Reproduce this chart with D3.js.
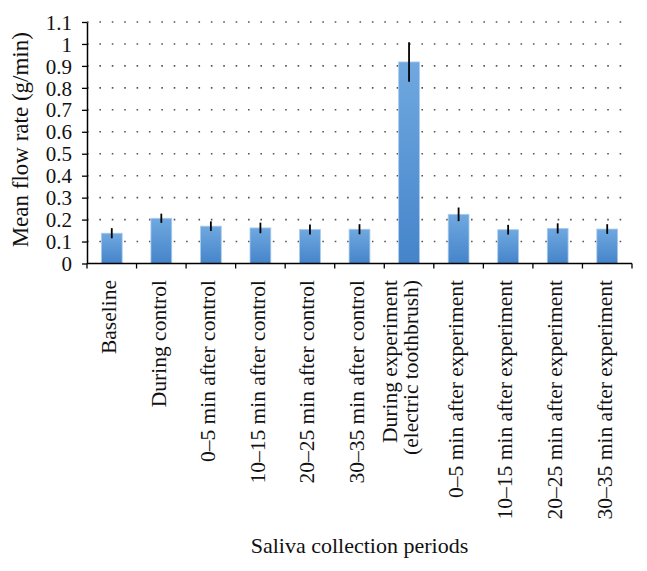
<!DOCTYPE html>
<html>
<head>
<meta charset="utf-8">
<script src="https://cdn.jsdelivr.net/npm/d3@7"></script>
<style>
  html, body { margin: 0; padding: 0; background: #fff; }
  svg { display: block; }
  text { font-family: "Liberation Serif", "Times New Roman", serif; fill: #111; }
</style>
</head>
<body>
<svg id="chart" width="647" height="571"></svg>
<script>
// ---- Data ----
const categories = [
  ["Baseline"],
  ["During control"],
  ["0\u20135 min after control"],
  ["10\u201315 min after control"],
  ["20\u201325 min after control"],
  ["30\u201335 min after control"],
  ["During experiment", "(electric toothbrush)"],
  ["0\u20135 min after experiment"],
  ["10\u201315 min after experiment"],
  ["20\u201325 min after experiment"],
  ["30\u201335 min after experiment"]
];
const meanValues = [0.138, 0.206, 0.170, 0.162, 0.155, 0.156, 0.918, 0.224, 0.154, 0.160, 0.157];
const errorValues = [0.023, 0.021, 0.022, 0.024, 0.023, 0.023, 0.090, 0.031, 0.022, 0.023, 0.022];
const yTicks = [0, 0.1, 0.2, 0.3, 0.4, 0.5, 0.6, 0.7, 0.8, 0.9, 1, 1.1];
const yTitle = "Mean flow rate (g/min)";
const xTitle = "Saliva collection periods";

// ---- Layout ----
const svg = d3.select("#chart");
const pLeft = 87, pRight = 632, pTop = 22, pBottom = 263.5;
const ids = categories.map((c, i) => i);

const x = d3.scaleBand().domain(ids).range([pLeft, pRight]).paddingInner(0.58).paddingOuter(0.29);
const y = d3.scaleLinear().domain([0, 1.1]).range([pBottom, pTop]);

// gradient
const defs = svg.append("defs");
const grad = defs.append("linearGradient").attr("id", "barGrad")
  .attr("x1", 0).attr("y1", 0).attr("x2", 0).attr("y2", 1);
grad.append("stop").attr("offset", "0%").attr("stop-color", "#70a9e0");
grad.append("stop").attr("offset", "100%").attr("stop-color", "#4584ca");

// gridlines (dotted)
const step = x.step();
svg.append("g").selectAll("line").data(yTicks.filter(d => d > 0)).join("line")
  .attr("x1", pLeft).attr("x2", pRight)
  .attr("y1", d => y(d)).attr("y2", d => y(d))
  .attr("stroke", "#555")
  .attr("stroke-width", 1.6)
  .attr("stroke-dasharray", `1.6,${step / 4 - 1.6}`);

// bars
svg.append("g").selectAll("rect").data(meanValues).join("rect")
  .attr("x", (d, i) => x(i))
  .attr("y", d => y(d))
  .attr("width", x.bandwidth())
  .attr("height", d => y(0) - y(d))
  .attr("fill", "url(#barGrad)")
  .attr("stroke", "#a9cbee")
  .attr("stroke-width", 0.8);

// error bars
svg.append("g").selectAll("line").data(meanValues).join("line")
  .attr("x1", (d, i) => x(i) + x.bandwidth() / 2)
  .attr("x2", (d, i) => x(i) + x.bandwidth() / 2)
  .attr("y1", (d, i) => y(d + errorValues[i]))
  .attr("y2", (d, i) => y(d - errorValues[i]))
  .attr("stroke", "#000")
  .attr("stroke-width", 1.8);

// y axis
const yAxis = d3.axisLeft(y).tickValues(yTicks).tickSize(5).tickSizeOuter(0)
  .tickFormat(d => d3.format("~g")(d));
const gy = svg.append("g").attr("transform", `translate(${pLeft},0)`).call(yAxis);
gy.select(".domain").attr("stroke", "#000").attr("stroke-width", 1.5);
gy.selectAll(".tick line").attr("stroke", "#000").attr("stroke-width", 1.3);
gy.selectAll(".tick text").attr("x", -15).attr("dy", "0.34em")
  .style("font-size", "21px").style("font-family", "Liberation Serif, serif").attr("fill", "#111");

// x axis
const gx = svg.append("g");
gx.append("line").attr("x1", pLeft).attr("x2", pRight).attr("y1", pBottom).attr("y2", pBottom)
  .attr("stroke", "#000").attr("stroke-width", 1.5);
const boundaries = ids.map(i => x(i) - (step - x.bandwidth()) / 2).concat([pRight]);
gx.selectAll("line.tk").data(boundaries).join("line").attr("class", "tk")
  .attr("x1", d => d).attr("x2", d => d).attr("y1", pBottom).attr("y2", pBottom + 5)
  .attr("stroke", "#000").attr("stroke-width", 1.3);

// x labels
const lab = svg.append("g").selectAll("text").data(categories).join("text")
  .attr("transform", (d, i) => `translate(${x(i) + x.bandwidth() / 2},280) rotate(-90)`)
  .attr("text-anchor", "end")
  .style("font-size", "21.5px");
lab.each(function(lines) {
  const t = d3.select(this);
  const n = lines.length;
  lines.forEach((s, k) => {
    t.append("tspan").attr("x", 0)
      .attr("y", (k - (n - 1) / 2) * 21 - (n > 1 ? 6 : 0))
      .attr("dy", "0.2em").text(s);
  });
});

// y title
svg.append("text")
  .attr("transform", `translate(28,${(pTop + pBottom) / 2 - 3}) rotate(-90)`)
  .attr("text-anchor", "middle")
  .style("font-size", "23px")
  .text(yTitle);

// x title
svg.append("text")
  .attr("x", (pLeft + pRight) / 2).attr("y", 553)
  .attr("text-anchor", "middle")
  .style("font-size", "22px")
  .text(xTitle);
</script>
</body>
</html>
